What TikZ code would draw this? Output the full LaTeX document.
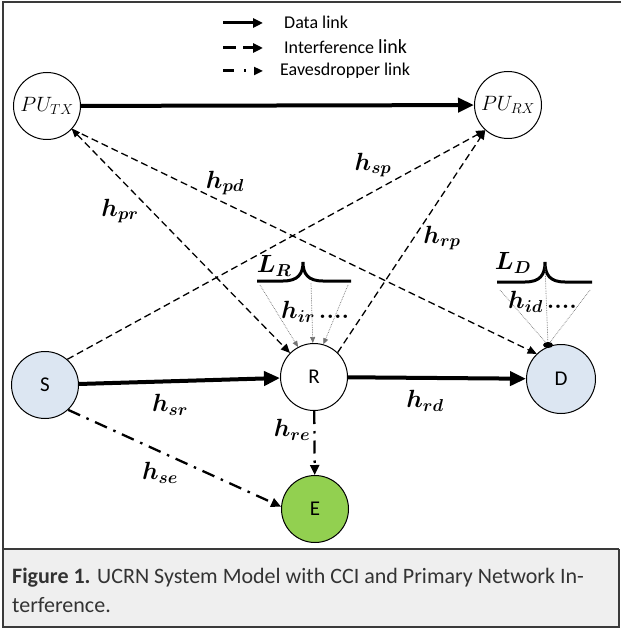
\documentclass[tikz,border=0pt]{standalone}
\usepackage{fontspec}
\setsansfont{Carlito}
\usepackage{bm}
\usetikzlibrary{arrows.meta}
\definecolor{nodeblue}{HTML}{DCE6F2}
\definecolor{nodegreen}{HTML}{92D050}
\definecolor{capgray}{HTML}{EFEFEF}
\definecolor{framegray}{HTML}{3A3A3A}
\begin{document}
\begin{tikzpicture}[x=1pt,y=-1pt,
  every node/.style={inner sep=0pt},
  circ/.style={circle,draw,line width=1pt,minimum size=67pt,font=\sffamily\fontsize{21}{24}\selectfont},
  pucirc/.style={circ,font=\fontsize{22}{24}\selectfont},
  datalink/.style={line width=4pt,-{Triangle[length=16pt,width=14pt]}},
  intlink/.style={line width=1.3pt,dash pattern=on 7pt off 4pt,-{Triangle[length=9pt,width=8pt]}},
  eavlink/.style={line width=2.3pt,dash pattern=on 13pt off 7pt on 2.5pt off 7pt,-{Triangle[length=10pt,width=9pt]}},
  lbl/.style={font=\fontsize{24}{26}\selectfont},
  leglbl/.style={anchor=west,font=\sffamily\fontsize{18}{20}\selectfont},
  dotarrow/.style={line width=0.7pt,densely dotted,black!55,-{Triangle[length=6pt,width=5pt]}},
  dotline/.style={line width=0.7pt,densely dotted,black!55},
  brace/.style={line width=3pt},
]
\useasboundingbox (0,0) rectangle (621,628);
% frame and caption
\fill[capgray] (3,549) rectangle (619,627);
\draw[framegray,line width=1.3pt] (621,2) -- (3,2) -- (3,627) -- (619,627) -- (619,549);
\draw[framegray,line width=1.3pt] (3,549) -- (619,549);
\node[anchor=base west,font=\sffamily\fontsize{22}{24}\selectfont,text=black!80] (cap1) at (12,583)
  {\textbf{Figure 1.} UCRN System Model with CCI and Primary Network In-};
\node[anchor=base west,font=\sffamily\fontsize{22}{24}\selectfont,text=black!80] (cap2) at (12,612)
  {terference.};

% legend
\coordinate (l1a) at (223,23); \coordinate (l1b) at (263,23);
\coordinate (l2a) at (223,48); \coordinate (l2b) at (263,48);
\coordinate (l3a) at (223,71); \coordinate (l3b) at (263,71);
\draw[line width=3pt,-{Triangle[length=10pt,width=9pt]}] (l1a) -- (l1b);
\draw[line width=3pt,dash pattern=on 13pt off 7pt,-{Triangle[length=10pt,width=9pt]}] (l2a) -- (l2b);
\draw[line width=3pt,dash pattern=on 11pt off 10pt on 2pt off 8pt,-{Triangle[length=9pt,width=8pt]}] (l3a) -- (l3b);
\node[leglbl] (t1) at (284,22) {Data link};
\node[leglbl] (t2) at (284,47) {Interference {\fontsize{20}{20}\selectfont link}};
\node[leglbl] (t3) at (280,71) {Eavesdropper link};

% nodes
\node[pucirc] (ptx) at (47,106) {$PU_{TX}$};
\node[pucirc] (prx) at (508,105) {$PU_{RX}$};
\node[circ,fill=nodeblue] (s) at (45,385) {S};
\node[circ] (r) at (314,377) {R};
\node[circ,fill=nodeblue,minimum size=69pt] (d) at (561,379) {D};
\node[circ,fill=nodegreen] (e) at (315,509) {E};

% links
\draw[datalink] (ptx) -- (prx);
\draw[datalink] (s) -- (r);
\draw[datalink] (r) -- (d);
\draw[eavlink] (r) -- (e);
\draw[eavlink] (s.-47) -- (e.176);
\draw[intlink,{Triangle[length=8pt,width=7pt]}-{Triangle[length=9pt,width=8pt]}] (ptx.-43) -- (r.135);
\draw[intlink] (ptx.-43) -- (d.134);
\draw[intlink] (s.49) -- (prx.228);
\draw[intlink] (r.46) -- (prx.228);

% link labels
\node[lbl] (hpr) at (120,211) {$\bm{h_{pr}}$};
\node[lbl] (hpd) at (225,183) {$\bm{h_{pd}}$};
\node[lbl] (hsp) at (373,165) {$\bm{h_{sp}}$};
\node[lbl] (hrp) at (442,238) {$\bm{h_{rp}}$};
\node[lbl] (hsr) at (170,405) {$\bm{h_{sr}}$};
\node[lbl] (hrd) at (425,401) {$\bm{h_{rd}}$};
\node[lbl] (hre) at (292,430) {$\bm{h_{re}}$};
\node[lbl] (hse) at (160,473) {$\bm{h_{se}}$};

% interference at R
\coordinate (lra) at (257,281);
\coordinate (lrp) at (303,262);
\coordinate (lrb) at (351,281);
\draw[brace] (lra) -- (283,281) .. controls (298,281) and (303,274) .. (lrp)
  .. controls (303,274) and (308,281) .. (323,281) -- (lrb);
\node[lbl] (lr) at (274,266) {$\bm{L_{R}}$};
\draw[dotarrow] (260,285) -- (r.118);
\draw[dotarrow] (311,283) -- (r.92);
\draw[dotarrow] (348,285) -- (r.74);
\node[lbl,anchor=west] (hir) at (281,312) {$\bm{h_{ir}}$\,\textbf{....}};

% interference at D
\coordinate (lda) at (497,282);
\coordinate (ldp) at (545,262);
\coordinate (ldb) at (592,282);
\coordinate (ddot) at (548,345);
\draw[brace] (lda) -- (525,282) .. controls (540,282) and (545,275) .. (ldp)
  .. controls (545,275) and (550,282) .. (565,282) -- (ldb);
\node[lbl] (ld) at (513,263) {$\bm{L_{D}}$};
\draw[dotline] (500,290) -- (ddot);
\draw[dotline] (545,266) -- (ddot);
\draw[dotline] (590,290) -- (ddot);
\fill (ddot) ellipse (5pt and 3pt);
\node[lbl,anchor=west] (hid) at (508,302) {$\bm{h_{id}}$\,\textbf{....}};
\end{tikzpicture}
\end{document}
